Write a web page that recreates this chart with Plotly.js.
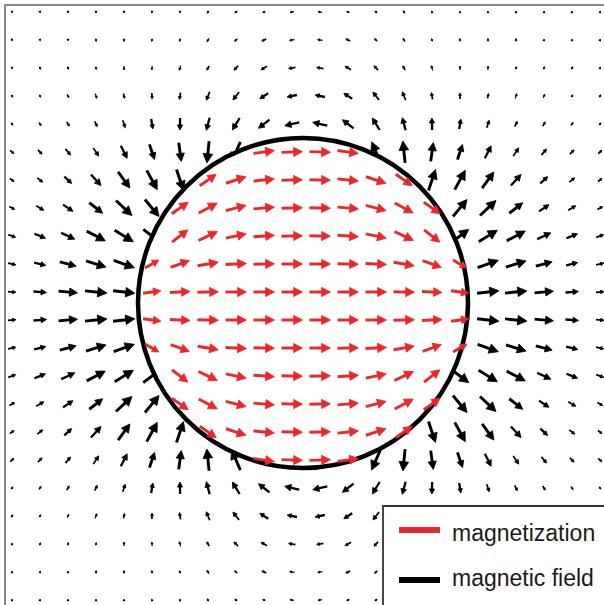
<!DOCTYPE html>
<html>
<head>
<meta charset="utf-8">
<script src="https://cdn.plot.ly/plotly-3.0.1.min.js"></script>
<style>
html,body{margin:0;padding:0;overflow:hidden;background:#fff}
#chart{width:612px;height:612px}
</style>
</head>
<body>
<div id="chart"></div>
<script>
const _ = null;

// grid positions (pixel-aligned data units, y downwards)
const xs = [12,40,68,96,124,152,180,208,236,264,292,320,348,376,404,432,460,488,516,544,572,600];
const ys = [12,40,68,96,124,152,180,208,236,264,292,320,348,376,404,432,460,488,516,544,572,600];

// magnetic field arrows outside the sphere (dx, dy in px, dy downwards)
const fieldU = [
[0.6,0.5,0.3,0.0,-0.3,-0.6,-0.9,-1.8,-2.3,-2.7,-4.0,-4.0,-2.7,-2.3,-1.8,-0.9,-0.6,-0.3,0.0,0.3,0.5,0.6],
[0.8,0.6,0.4,0.3,-0.1,-0.6,-1.1,-2.2,-2.9,-4.5,-4.9,-4.9,-4.5,-2.9,-2.2,-1.1,-0.6,-0.1,0.3,0.4,0.6,0.8],
[1.0,1.2,0.9,0.6,0.3,-0.3,-1.3,-2.4,-4.1,-6.1,-6.9,-6.9,-6.1,-4.1,-2.4,-1.3,-0.3,0.3,0.6,0.9,1.2,1.0],
[1.7,1.5,1.7,1.6,1.0,0.2,-1.1,-3.4,-6.1,-8.4,-9.8,-9.8,-8.4,-6.1,-3.4,-1.1,0.2,1.0,1.6,1.7,1.5,1.7],
[2.0,2.4,2.6,2.6,2.5,1.7,-0.2,-3.3,-7.3,-11.1,-14.6,-14.6,-11.1,-7.3,-3.3,-0.2,1.7,2.5,2.6,2.6,2.4,2.0],
[3.7,4.2,5.1,5.5,6.3,5.1,2.6,-2.2,-8.7,_,_,_,_,-8.7,-2.2,2.6,5.1,6.3,5.5,5.1,4.2,3.7],
[4.1,5.5,7.4,10.1,11.8,10.5,7.0,_,_,_,_,_,_,_,_,7.0,10.5,11.8,10.1,7.4,5.5,4.1],
[5.3,7.7,9.9,13.4,16.0,14.1,_,_,_,_,_,_,_,_,_,_,14.1,16.0,13.4,9.9,7.7,5.3],
[7.5,11.1,13.6,18.6,18.7,17.5,_,_,_,_,_,_,_,_,_,_,17.5,18.7,18.6,13.6,11.1,7.5],
[7.8,11.7,16.4,20.1,20.7,_,_,_,_,_,_,_,_,_,_,_,_,20.7,20.1,16.4,11.7,7.8],
[8.0,13.0,18.9,21.9,21.8,_,_,_,_,_,_,_,_,_,_,_,_,21.8,21.9,18.9,13.0,8.0],
[8.0,13.0,18.9,21.9,21.8,_,_,_,_,_,_,_,_,_,_,_,_,21.8,21.9,18.9,13.0,8.0],
[7.8,11.7,16.4,20.1,20.7,_,_,_,_,_,_,_,_,_,_,_,_,20.7,20.1,16.4,11.7,7.8],
[7.5,11.1,13.6,18.6,18.7,17.5,_,_,_,_,_,_,_,_,_,_,17.5,18.7,18.6,13.6,11.1,7.5],
[5.3,7.7,9.9,13.4,16.0,14.1,_,_,_,_,_,_,_,_,_,_,14.1,16.0,13.4,9.9,7.7,5.3],
[4.1,5.5,7.4,10.1,11.8,10.5,7.0,_,_,_,_,_,_,_,_,7.0,10.5,11.8,10.1,7.4,5.5,4.1],
[3.7,4.2,5.1,5.5,6.3,5.1,2.6,-2.2,-8.7,_,_,_,_,-8.7,-2.2,2.6,5.1,6.3,5.5,5.1,4.2,3.7],
[2.0,2.4,2.6,2.6,2.5,1.7,-0.2,-3.3,-7.3,-11.1,-14.6,-14.6,-11.1,-7.3,-3.3,-0.2,1.7,2.5,2.6,2.6,2.4,2.0],
[1.7,1.5,1.7,1.6,1.0,0.2,-1.1,-3.4,-6.1,-8.4,-9.8,-9.8,-8.4,-6.1,-3.4,-1.1,0.2,1.0,1.6,1.7,1.5,1.7],
[1.0,1.2,0.9,0.6,0.3,-0.3,-1.3,-2.4,-4.1,-6.1,-6.9,-6.9,-6.1,-4.1,-2.4,-1.3,-0.3,0.3,0.6,0.9,1.2,1.0],
[0.8,0.6,0.4,0.3,-0.1,-0.6,-1.1,-2.2,-2.9,-4.5,-4.9,-4.9,-4.5,-2.9,-2.2,-1.1,-0.6,-0.1,0.3,0.4,0.6,0.8],
[0.6,0.5,0.3,0.0,-0.3,-0.6,-0.9,-1.8,-2.3,-2.7,-4.0,-4.0,-2.7,-2.3,-1.8,-0.9,-0.6,-0.3,0.0,0.3,0.5,0.6]
];
const fieldV = [
[1.9,1.9,2.0,2.0,2.0,1.9,1.8,2.4,1.9,1.2,0.6,-0.6,-1.2,-1.9,-2.4,-1.8,-1.9,-2.0,-2.0,-2.0,-1.9,-1.9],
[1.8,1.9,2.0,3.0,3.0,2.9,2.8,3.3,2.7,2.2,0.8,-0.8,-2.2,-2.7,-3.3,-2.8,-2.9,-3.0,-3.0,-2.0,-1.9,-1.8],
[1.8,2.7,2.8,2.9,4.0,4.0,4.8,4.4,4.4,3.4,1.2,-1.2,-3.4,-4.4,-4.4,-4.8,-4.0,-4.0,-2.9,-2.8,-2.7,-1.8],
[2.5,2.6,3.6,4.7,4.9,6.0,6.9,8.4,7.9,5.5,2.0,-2.0,-5.5,-7.9,-8.4,-6.9,-6.0,-4.9,-4.7,-3.6,-2.6,-2.5],
[2.3,3.2,4.3,5.4,7.6,9.9,12.0,12.6,12.0,8.6,3.4,-3.4,-8.6,-12.0,-12.6,-12.0,-9.9,-7.6,-5.4,-4.3,-3.2,-2.3],
[3.4,4.3,6.2,8.3,12.5,15.2,18.8,21.9,20.2,_,_,_,_,-20.2,-21.9,-18.8,-15.2,-12.5,-8.3,-6.2,-4.3,-3.4],
[2.9,4.4,6.8,11.1,16.1,19.3,20.9,_,_,_,_,_,_,_,_,-20.9,-19.3,-16.1,-11.1,-6.8,-4.4,-2.9],
[2.8,4.6,6.7,10.5,15.1,16.9,_,_,_,_,_,_,_,_,_,_,-16.9,-15.1,-10.5,-6.7,-4.6,-2.8],
[2.8,4.5,6.3,9.8,11.6,13.3,_,_,_,_,_,_,_,_,_,_,-13.3,-11.6,-9.8,-6.3,-4.5,-2.8],
[1.7,2.8,4.4,6.2,7.4,_,_,_,_,_,_,_,_,_,_,_,_,-7.4,-6.2,-4.4,-2.8,-1.7],
[0.6,1.0,1.7,2.2,2.5,_,_,_,_,_,_,_,_,_,_,_,_,-2.5,-2.2,-1.7,-1.0,-0.6],
[-0.6,-1.0,-1.7,-2.2,-2.5,_,_,_,_,_,_,_,_,_,_,_,_,2.5,2.2,1.7,1.0,0.6],
[-1.7,-2.8,-4.4,-6.2,-7.4,_,_,_,_,_,_,_,_,_,_,_,_,7.4,6.2,4.4,2.8,1.7],
[-2.8,-4.5,-6.3,-9.8,-11.6,-13.3,_,_,_,_,_,_,_,_,_,_,13.3,11.6,9.8,6.3,4.5,2.8],
[-2.8,-4.6,-6.7,-10.5,-15.1,-16.9,_,_,_,_,_,_,_,_,_,_,16.9,15.1,10.5,6.7,4.6,2.8],
[-2.9,-4.4,-6.8,-11.1,-16.1,-19.3,-20.9,_,_,_,_,_,_,_,_,20.9,19.3,16.1,11.1,6.8,4.4,2.9],
[-3.4,-4.3,-6.2,-8.3,-12.5,-15.2,-18.8,-21.9,-20.2,_,_,_,_,20.2,21.9,18.8,15.2,12.5,8.3,6.2,4.3,3.4],
[-2.3,-3.2,-4.3,-5.4,-7.6,-9.9,-12.0,-12.6,-12.0,-8.6,-3.4,3.4,8.6,12.0,12.6,12.0,9.9,7.6,5.4,4.3,3.2,2.3],
[-2.5,-2.6,-3.6,-4.7,-4.9,-6.0,-6.9,-8.4,-7.9,-5.5,-2.0,2.0,5.5,7.9,8.4,6.9,6.0,4.9,4.7,3.6,2.6,2.5],
[-1.8,-2.7,-2.8,-2.9,-4.0,-4.0,-4.8,-4.4,-4.4,-3.4,-1.2,1.2,3.4,4.4,4.4,4.8,4.0,4.0,2.9,2.8,2.7,1.8],
[-1.8,-1.9,-2.0,-3.0,-3.0,-2.9,-2.8,-3.3,-2.7,-2.2,-0.8,0.8,2.2,2.7,3.3,2.8,2.9,3.0,3.0,2.0,1.9,1.8],
[-1.9,-1.9,-2.0,-2.0,-2.0,-1.9,-1.8,-2.4,-1.9,-1.2,-0.6,0.6,1.2,1.9,2.4,1.8,1.9,2.0,2.0,2.0,1.9,1.9]
];

// magnetization arrows inside the sphere
const magU = [
[_,_,_,_,_,_,_,_,_,_,_,_,_,_,_,_,_,_,_,_,_,_],
[_,_,_,_,_,_,_,_,_,_,_,_,_,_,_,_,_,_,_,_,_,_],
[_,_,_,_,_,_,_,_,_,_,_,_,_,_,_,_,_,_,_,_,_,_],
[_,_,_,_,_,_,_,_,_,_,_,_,_,_,_,_,_,_,_,_,_,_],
[_,_,_,_,_,_,_,_,_,_,_,_,_,_,_,_,_,_,_,_,_,_],
[_,_,_,_,_,_,_,_,_,20.8,21.0,21.0,20.8,_,_,_,_,_,_,_,_,_],
[_,_,_,_,_,_,_,16.4,20.0,20.9,21.0,21.0,20.9,20.0,16.4,_,_,_,_,_,_,_],
[_,_,_,_,_,_,16.4,18.5,20.4,20.9,21.0,21.0,20.9,20.4,18.5,16.4,_,_,_,_,_,_],
[_,_,_,_,_,_,15.8,19.0,20.5,20.9,21.0,21.0,20.9,20.5,19.0,15.8,_,_,_,_,_,_],
[_,_,_,_,_,13.9,18.8,20.7,21.0,21.0,21.0,21.0,21.0,21.0,20.7,18.8,13.9,_,_,_,_,_],
[_,_,_,_,_,17.8,20.0,21.0,21.0,21.0,21.0,21.0,21.0,21.0,21.0,20.0,17.8,_,_,_,_,_],
[_,_,_,_,_,17.8,20.0,21.0,21.0,21.0,21.0,21.0,21.0,21.0,21.0,20.0,17.8,_,_,_,_,_],
[_,_,_,_,_,13.9,18.8,20.7,21.0,21.0,21.0,21.0,21.0,21.0,20.7,18.8,13.9,_,_,_,_,_],
[_,_,_,_,_,_,15.8,19.0,20.5,20.9,21.0,21.0,20.9,20.5,19.0,15.8,_,_,_,_,_,_],
[_,_,_,_,_,_,16.4,18.5,20.4,20.9,21.0,21.0,20.9,20.4,18.5,16.4,_,_,_,_,_,_],
[_,_,_,_,_,_,_,16.4,20.0,20.9,21.0,21.0,20.9,20.0,16.4,_,_,_,_,_,_,_],
[_,_,_,_,_,_,_,_,_,20.8,21.0,21.0,20.8,_,_,_,_,_,_,_,_,_],
[_,_,_,_,_,_,_,_,_,_,_,_,_,_,_,_,_,_,_,_,_,_],
[_,_,_,_,_,_,_,_,_,_,_,_,_,_,_,_,_,_,_,_,_,_],
[_,_,_,_,_,_,_,_,_,_,_,_,_,_,_,_,_,_,_,_,_,_],
[_,_,_,_,_,_,_,_,_,_,_,_,_,_,_,_,_,_,_,_,_,_],
[_,_,_,_,_,_,_,_,_,_,_,_,_,_,_,_,_,_,_,_,_,_]
];
const magV = [
[_,_,_,_,_,_,_,_,_,_,_,_,_,_,_,_,_,_,_,_,_,_],
[_,_,_,_,_,_,_,_,_,_,_,_,_,_,_,_,_,_,_,_,_,_],
[_,_,_,_,_,_,_,_,_,_,_,_,_,_,_,_,_,_,_,_,_,_],
[_,_,_,_,_,_,_,_,_,_,_,_,_,_,_,_,_,_,_,_,_,_],
[_,_,_,_,_,_,_,_,_,_,_,_,_,_,_,_,_,_,_,_,_,_],
[_,_,_,_,_,_,_,_,_,-2.9,-0.7,0.7,2.9,_,_,_,_,_,_,_,_,_],
[_,_,_,_,_,_,_,-11.5,-6.5,-2.2,-0.4,0.4,2.2,6.5,11.5,_,_,_,_,_,_,_],
[_,_,_,_,_,_,-11.5,-9.9,-5.1,-1.8,-0.4,0.4,1.8,5.1,9.9,11.5,_,_,_,_,_,_],
[_,_,_,_,_,_,-12.3,-8.9,-4.4,-1.5,-0.4,0.4,1.5,4.4,8.9,12.3,_,_,_,_,_,_],
[_,_,_,_,_,-8.0,-6.8,-3.6,-1.1,-0.4,0,0,0.4,1.1,3.6,6.8,8.0,_,_,_,_,_],
[_,_,_,_,_,-2.5,-1.0,-0.4,0,0,0,0,0,0,0.4,1.0,2.5,_,_,_,_,_],
[_,_,_,_,_,2.5,1.0,0.4,0,0,0,0,0,0,-0.4,-1.0,-2.5,_,_,_,_,_],
[_,_,_,_,_,8.0,6.8,3.6,1.1,0.4,0,0,-0.4,-1.1,-3.6,-6.8,-8.0,_,_,_,_,_],
[_,_,_,_,_,_,12.3,8.9,4.4,1.5,0.4,-0.4,-1.5,-4.4,-8.9,-12.3,_,_,_,_,_,_],
[_,_,_,_,_,_,11.5,9.9,5.1,1.8,0.4,-0.4,-1.8,-5.1,-9.9,-11.5,_,_,_,_,_,_],
[_,_,_,_,_,_,_,11.5,6.5,2.2,0.4,-0.4,-2.2,-6.5,-11.5,_,_,_,_,_,_,_],
[_,_,_,_,_,_,_,_,_,2.9,0.7,-0.7,-2.9,_,_,_,_,_,_,_,_,_],
[_,_,_,_,_,_,_,_,_,_,_,_,_,_,_,_,_,_,_,_,_,_],
[_,_,_,_,_,_,_,_,_,_,_,_,_,_,_,_,_,_,_,_,_,_],
[_,_,_,_,_,_,_,_,_,_,_,_,_,_,_,_,_,_,_,_,_,_],
[_,_,_,_,_,_,_,_,_,_,_,_,_,_,_,_,_,_,_,_,_,_],
[_,_,_,_,_,_,_,_,_,_,_,_,_,_,_,_,_,_,_,_,_,_]
];

const sphereCenter = [303, 303];
const sphereRadius = 165;
const seriesNames = ['magnetization', 'magnetic field'];
const seriesColors = ['#e8282d', '#000000'];

// ---- drawing ----
const W = 612, H = 612, M = 6;
const xRange = [6, 606], yRange = [606, 6];
const pxPerUnit = (W - 2 * M) / (xRange[1] - xRange[0]);
const widthBins = [{max: 5, w: 1.2}, {max: 10, w: 1.7}, {max: 16, w: 2.3}, {max: Infinity, w: 2.9}];

function arrowTraces(U, V, color, name) {
  const shafts = widthBins.map(() => ({x: [], y: []}));
  const heads = {x: [], y: []};
  ys.forEach((cy, i) => xs.forEach((cx, j) => {
    const u = U[i][j], v = V[i][j];
    if (u === null || v === null) return;
    const L = Math.hypot(u, v);
    if (!L) return;
    const ex = u / L, ey = v / L;
    const tx = cx - u / 2, ty = cy - v / 2;
    const px = cx + u / 2, py = cy + v / 2;
    const h = Math.max(1.8, 0.42 * L), w = 0.52 * h;
    const bx = px - h * ex, by = py - h * ey;
    const k = widthBins.findIndex(b => L < b.max);
    shafts[k].x.push(tx, bx + 0.3 * h * ex, null);
    shafts[k].y.push(ty, by + 0.3 * h * ey, null);
    heads.x.push(px, bx - w * ey, bx + w * ey, px, null);
    heads.y.push(py, by + w * ex, by - w * ex, py, null);
  }));
  const out = shafts.map((s, k) => ({
    type: 'scatter', mode: 'lines', x: s.x, y: s.y, name: name,
    line: {color: color, width: widthBins[k].w}, hoverinfo: 'skip', showlegend: false
  }));
  out.push({
    type: 'scatter', mode: 'lines', x: heads.x, y: heads.y, name: name,
    fill: 'toself', fillcolor: color, line: {color: color, width: 0.8},
    hoverinfo: 'skip', showlegend: false
  });
  return out;
}

const disk = {
  type: 'scatter', mode: 'markers', x: [sphereCenter[0]], y: [sphereCenter[1]],
  marker: {symbol: 'circle', size: 2 * sphereRadius * pxPerUnit, color: '#ffffff',
           line: {color: '#000000', width: 4.5}},
  hoverinfo: 'skip', showlegend: false, cliponaxis: false
};

const data = [].concat(
  arrowTraces(fieldU, fieldV, seriesColors[1], seriesNames[1]),
  [disk],
  arrowTraces(magU, magV, seriesColors[0], seriesNames[0])
);

const axisBase = {
  showline: true, mirror: true, linecolor: '#8a8a8a', linewidth: 2,
  showgrid: false, zeroline: false, showticklabels: false, ticks: '', fixedrange: true
};

const legendFont = {family: 'Liberation Sans, Arial, sans-serif', size: 23, color: '#1a1a1a'};

const layout = {
  width: W, height: H,
  margin: {l: M, r: M, t: M, b: M, pad: 0},
  paper_bgcolor: '#ffffff', plot_bgcolor: '#ffffff',
  showlegend: false, hovermode: false,
  xaxis: Object.assign({range: xRange}, axisBase),
  yaxis: Object.assign({range: yRange}, axisBase),
  shapes: [
    {type: 'rect', xref: 'x', yref: 'y', x0: 383, y0: 506, x1: 640, y1: 640,
     line: {color: '#333333', width: 1.8}, fillcolor: '#ffffff', layer: 'above'},
    {type: 'line', xref: 'x', yref: 'y', x0: 399, x1: 440, y0: 530, y1: 530,
     line: {color: seriesColors[0], width: 6}, layer: 'above'},
    {type: 'line', xref: 'x', yref: 'y', x0: 399, x1: 440, y0: 580, y1: 580,
     line: {color: seriesColors[1], width: 6}, layer: 'above'}
  ],
  annotations: [
    {xref: 'x', yref: 'y', x: 450, y: 533, text: seriesNames[0], showarrow: false,
     xanchor: 'left', yanchor: 'middle', font: legendFont},
    {xref: 'x', yref: 'y', x: 450, y: 578, text: seriesNames[1], showarrow: false,
     xanchor: 'left', yanchor: 'middle', font: legendFont}
  ]
};

Plotly.newPlot('chart', data, layout, {staticPlot: true, displayModeBar: false});
</script>
</body>
</html>
